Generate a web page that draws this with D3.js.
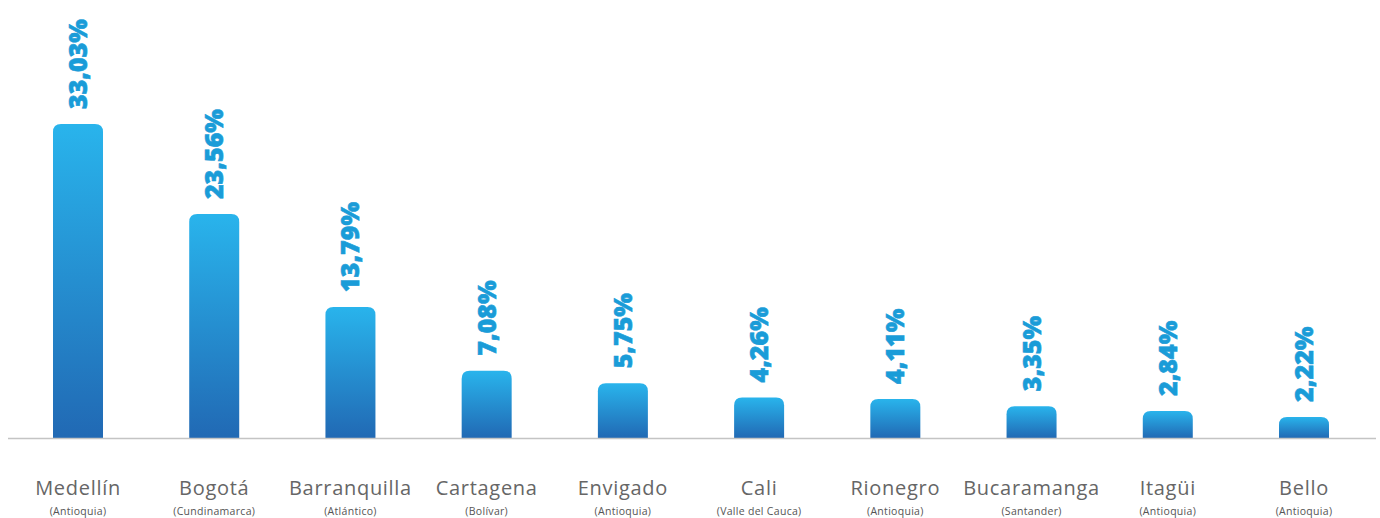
<!DOCTYPE html>
<html>
<head>
<meta charset="utf-8">
<script src="https://cdn.jsdelivr.net/npm/d3@7"></script>
<style>
  html, body { margin: 0; padding: 0; background: #fff; }
  svg { display: block; }
</style>
</head>
<body>
<div id="w"></div>
<script>
// data
var cities = ["Medellín", "Bogotá", "Barranquilla", "Cartagena", "Envigado", "Cali", "Rionegro", "Bucaramanga", "Itagüi", "Bello"];
var regions = ["(Antioquia)", "(Cundinamarca)", "(Atlántico)", "(Bolívar)", "(Antioquia)", "(Valle del Cauca)", "(Antioquia)", "(Santander)", "(Antioquia)", "(Antioquia)"];
var values = [33.03, 23.56, 13.79, 7.08, 5.75, 4.26, 4.11, 3.35, 2.84, 2.22];

var W = 1380, H = 518;
var base = 438;

var svg = d3.select("#w").append("svg")
            .attr("width", W)
            .attr("height", H);

var grad = svg.append("defs").append("linearGradient")
  .attr("id", "barg")
  .attr("x1", 0).attr("y1", 0).attr("x2", 0).attr("y2", 1);
grad.append("stop").attr("offset", "0%").attr("stop-color", "#29b4ec");
grad.append("stop").attr("offset", "100%").attr("stop-color", "#2169b4");

var x = d3.scalePoint().domain(cities).range([78, 1304]);
var y = d3.scaleLinear().domain([0, 33.03]).range([base, 124]);

var bw = 50, r = 8;

// bars, rounded top corners only
svg.selectAll("path.bar")
  .data(values)
  .enter()
  .append("path")
  .attr("class", "bar")
  .attr("fill", "url(#barg)")
  .attr("d", function(d, i) {
    var x0 = x(cities[i]) - bw / 2, x1 = x0 + bw, t = y(d);
    var p = d3.path();
    p.moveTo(x0, base);
    p.lineTo(x0, t + r);
    p.quadraticCurveTo(x0, t, x0 + r, t);
    p.lineTo(x1 - r, t);
    p.quadraticCurveTo(x1, t, x1, t + r);
    p.lineTo(x1, base);
    p.closePath();
    return p.toString();
  });

// baseline
svg.append("line")
  .attr("x1", 8).attr("x2", 1376)
  .attr("y1", base + 0.5).attr("y2", base + 0.5)
  .attr("stroke", "#c4c4c4")
  .attr("stroke-width", 1.5);

// value labels, rotated
svg.selectAll("text.val")
  .data(values)
  .enter()
  .append("text")
  .attr("class", "val")
  .attr("transform", function(d, i) {
    return "translate(" + (x(cities[i]) + 9) + "," + (y(d) - 15) + ") rotate(-90)";
  })
  .attr("font-family", "'Open Sans', sans-serif")
  .attr("font-weight", 800)
  .attr("font-size", 25)
  .attr("fill", "#1a9cd8")
  .attr("stroke", "#1a9cd8")
  .attr("stroke-width", 0.6)
  .text(function(d) { return d.toFixed(2).replace(".", ",") + "%"; });

// category labels
var lab = svg.selectAll("g.lab")
  .data(cities)
  .enter()
  .append("g")
  .attr("class", "lab")
  .attr("transform", function(d) { return "translate(" + x(d) + ",0)"; });

lab.append("text")
  .attr("y", 495)
  .attr("text-anchor", "middle")
  .attr("font-family", "'Open Sans', sans-serif")
  .attr("font-size", 20)
  .attr("letter-spacing", 0.7)
  .attr("fill", "#666")
  .text(function(d) { return d; });

lab.append("text")
  .attr("y", 515)
  .attr("text-anchor", "middle")
  .attr("font-family", "'Open Sans', sans-serif")
  .attr("font-size", 10.5)
  .attr("letter-spacing", 0.3)
  .attr("fill", "#555")
  .text(function(d, i) { return regions[i]; });
</script>
</body>
</html>
